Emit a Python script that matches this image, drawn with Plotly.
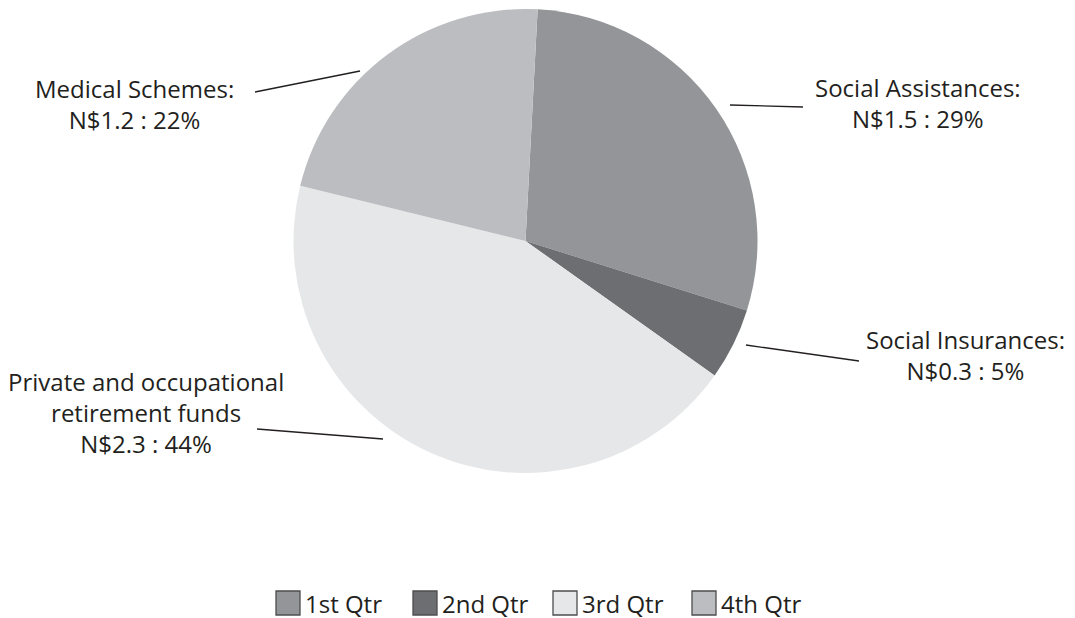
import plotly.graph_objects as go

# ---- data ----
categories = ["1st Qtr", "2nd Qtr", "3rd Qtr", "4th Qtr"]
shares_pct = [29, 5, 44, 22]
amounts = [1.5, 0.3, 2.3, 1.2]
label_names = ["Social Assistances:", "Social Insurances:",
               "Private and occupational<br>retirement funds", "Medical Schemes:"]
colors = ["#939598", "#6d6e71", "#e6e7e8", "#bcbdc0"]

# the page body adds an 8px margin around the figure
OFF = 8
W, H = 1075, 618
FONT = "Open Sans"
TXT = "#231f20"


def px(x):
    return (x - OFF) / W


def py(y):
    return 1 - (y - OFF) / H


fig = go.Figure()
fig.add_trace(go.Pie(
    labels=categories, values=shares_pct, sort=False, direction="clockwise",
    rotation=3, textinfo="none", hoverinfo="skip", showlegend=False,
    marker=dict(colors=colors, line=dict(width=0)),
    domain=dict(x=[px(293.5), px(757.5)], y=[py(473), py(9)]),
))

# ---- slice labels (layout placement) ----
label_pos = [(918, 103), (965, 355), (146, 412), (134, 104)]
leader = [((730, 105), (803, 107)), ((746, 345), (859, 361)),
          ((383, 439), (257, 429)), ((360, 71), (255, 92))]

annotations = []
shapes = []
for name, amt, pct, (lx, ly), ((x0, y0), (x1, y1)) in zip(
        label_names, amounts, shares_pct, label_pos, leader):
    annotations.append(dict(
        x=px(lx), y=py(ly), xref="paper", yref="paper", showarrow=False,
        text=f"{name}<br>N${amt} : {pct}%", align="center",
        xanchor="center", yanchor="middle",
        font=dict(family=FONT, size=24, color=TXT)))
    shapes.append(dict(type="line", xref="paper", yref="paper",
                       x0=px(x0), y0=py(y0), x1=px(x1), y1=py(y1),
                       line=dict(color=TXT, width=1.3)))

# ---- legend (drawn manually for large swatches) ----
legend_x = [276, 413, 553, 692]
box = 24
leg_y = 603
for cat, col, lx in zip(categories, colors, legend_x):
    shapes.append(dict(type="rect", xref="paper", yref="paper",
                       x0=px(lx), x1=px(lx + box),
                       y0=py(leg_y + box / 2), y1=py(leg_y - box / 2),
                       fillcolor=col, line=dict(color="#4d4d4f", width=1.3)))
    annotations.append(dict(
        x=px(lx + box + 3), y=py(leg_y), xref="paper", yref="paper",
        showarrow=False, text=cat, xanchor="left", yanchor="middle",
        font=dict(family=FONT, size=24, color=TXT)))

fig.update_layout(
    width=W, height=H, margin=dict(l=0, r=0, t=0, b=0),
    paper_bgcolor="white", plot_bgcolor="white",
    annotations=annotations, shapes=shapes, showlegend=False,
)

fig.write_html("out.html")
